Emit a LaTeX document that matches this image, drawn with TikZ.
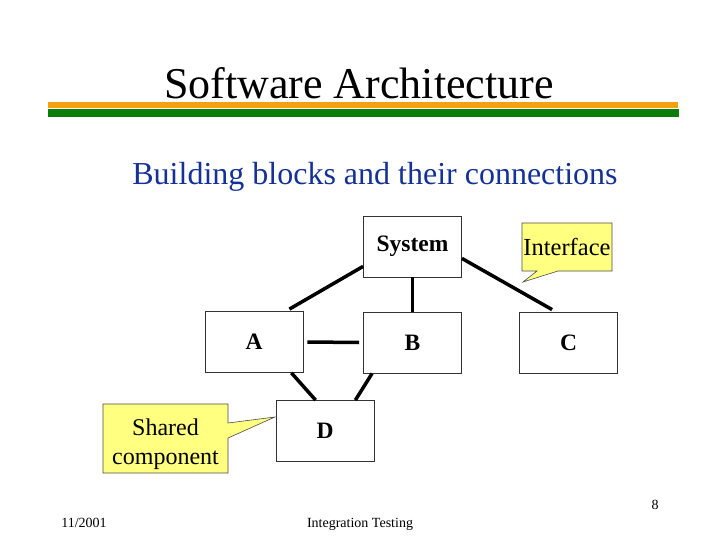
\documentclass[tikz,border=0pt]{standalone}
\usepackage{fontspec}
\setmainfont{Liberation Serif}
\usetikzlibrary{positioning}

\definecolor{barorange}{RGB}{245,160,16}
\definecolor{bargreen}{RGB}{8,125,8}
\definecolor{subblue}{RGB}{20,50,150}
\definecolor{noteyellow}{RGB}{255,255,128}

\tikzset{
  block/.style={draw=black!80, line width=0.8pt, fill=white, minimum width=98pt, minimum height=61pt,
    inner sep=0pt, font=\fontsize{23.5}{26}\selectfont\bfseries},
  link/.style={line width=3.5pt},
  note/.style={draw=black!70, line width=0.6pt, fill=noteyellow},
  footer/.style={font=\fontsize{14}{16}\selectfont, anchor=base}
}

\begin{document}
\begin{tikzpicture}[x=1pt, y=-1pt]
    \useasboundingbox[fill=white] (0,0) rectangle (720,540);

    % title and bars
    \node[anchor=base, font=\fontsize{44}{48}\selectfont] (title) at (359,99) {Software Architecture};
    \fill[barorange] (48,102) rectangle (678,108);
    \fill[bargreen] (48,109) rectangle (679,117);
    \node[anchor=base, text=subblue, font=\fontsize{32}{36}\selectfont] (sub) at (375,185) {Building blocks and their connections};

    % blocks
    \node[block] (sys) at (412.5,246.5) {System};
    \node[block] (A) at (254,342) {A};
    \node[block] (B) at (412.5,342.5) {B};
    \node[block] (C) at (568.5,342.5) {C};
    \node[block] (D) at (325,431) {D};

    % connections
    \draw[link] ([yshift=11pt]sys.south west) -- ([xshift=-14pt,yshift=2pt]A.north east);
    \draw[link] (sys.south) -- (B.north);
    \draw[link] ([yshift=19pt]sys.south east) -- ([xshift=33pt,yshift=2pt]C.north west);
    \draw[link] ([xshift=4pt]A.east) -- ([xshift=-4pt]B.west);
    \draw[link] ([xshift=-12pt]A.south east) -- ([xshift=40pt]D.north west);
    \draw[link] ([xshift=9pt]B.south west) -- ([xshift=-19pt]D.north east);

    % callouts
    \draw[note] (522,223) -- (612,223) -- (612,271) -- (558,271) -- (523,282) -- (537,271) -- (522,271) -- cycle;
    \node[font=\fontsize{24.5}{27}\selectfont] (iface) at (567,247) {Interface};
    \draw[note] (103,404) -- (228,404) -- (228,423) -- (275,417) -- (228,438) -- (228,473) -- (103,473) -- cycle;
    \node[align=center, font=\fontsize{24}{29}\selectfont] (shared) at (165.5,444) {Shared\\component};

    % footer
    \node[footer] (date) at (84,527) {11/2001};
    \node[footer] (course) at (360,527) {Integration Testing};
    \node[footer] (page) at (655,509) {8};
\end{tikzpicture}
\end{document}
